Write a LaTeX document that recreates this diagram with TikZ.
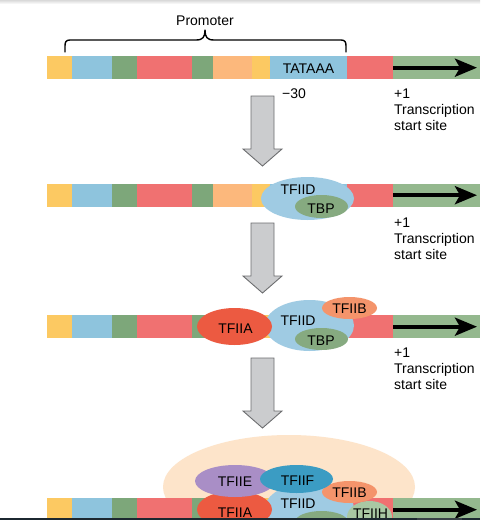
\documentclass[tikz,border=0pt]{standalone}
\usepackage{fontspec}
\setmainfont{Liberation Sans}
\usetikzlibrary{arrows.meta,shapes.geometric}
\definecolor{cyel}{HTML}{FCC962}
\definecolor{cblu}{HTML}{8EC4DD}
\definecolor{cgrn}{HTML}{7DA77A}
\definecolor{cred}{HTML}{F07171}
\definecolor{corg}{HTML}{FCB87C}
\definecolor{clgr}{HTML}{94B88E}
\definecolor{ctfd}{HTML}{9FCBE3}
\definecolor{ctbp}{HTML}{86AA80}
\definecolor{ctfa}{HTML}{EC5A41}
\definecolor{ctfb}{HTML}{F4946B}
\definecolor{ctfe}{HTML}{A98EC6}
\definecolor{ctff}{HTML}{3B9CC3}
\definecolor{ctfh}{HTML}{A9C8A3}
\definecolor{cpch}{HTML}{FDE4CA}
\definecolor{cgfill}{HTML}{CBCCCE}
\definecolor{cgline}{HTML}{6D6E70}
\definecolor{cband}{HTML}{1C2830}
\definecolor{cbandl}{HTML}{384046}
\begin{document}
\begin{tikzpicture}[x=1pt,y=-1pt,font=\fontsize{14}{16}\selectfont,
  blob/.style={ellipse,inner sep=0pt,draw=none},
  lbl/.style={anchor=base,inner sep=0pt},
  lblw/.style={anchor=base west,inner sep=0pt},
  dnarrow/.style={fill=cgfill,draw=cgline,line width=0.9pt,line join=miter},
  tss/.style={line width=4pt,-{Stealth[length=22pt,width=18pt,inset=5pt]}}]
\useasboundingbox (0,0) rectangle (480,520);
\fill[white] (0,0) rectangle (480,520);
\shade[top color=gray!30,bottom color=white] (0,0) rectangle (480,4);

% peach complex (row 4)
\node[blob,fill=cpch,minimum width=252pt,minimum height=104pt] (pol) at (289,487) {};

% DNA bars
\foreach \t [count=\r] in {56,183.5,315,498}{
  \fill[cyel] (47,\t) rectangle (72,\t+23.3);
  \fill[cblu] (72,\t) rectangle (112,\t+23.3);
  \fill[cgrn] (112,\t) rectangle (137,\t+23.3);
  \fill[cred] (137,\t) rectangle (192,\t+23.3);
  \fill[cgrn] (192,\t) rectangle (213,\t+23.3);
  \fill[corg] (213,\t) rectangle (252,\t+23.3);
  \fill[cyel] (252,\t) rectangle (270,\t+23.3);
  \fill[cblu] (270,\t) rectangle (347,\t+23.3);
  \fill[cred] (347,\t) rectangle (393,\t+23.3);
  \fill[clgr] (393,\t) rectangle (480,\t+23.3);
  \coordinate (s\r) at (393,\t+11.7);
  \coordinate (e\r) at (477,\t+11.7);
}
\foreach \r in {1,2,3,4}{ \draw[tss] (s\r) -- (e\r); }

% brace
\draw[line width=1.4pt,line cap=round,line join=round]
  (65,52) -- (65,46) .. controls (65,42) and (66,40) .. (70,40) -- (196,40)
  .. controls (203,40) and (205,37) .. (205,30)
  .. controls (205,37) and (207,40) .. (214,40) -- (341,40)
  .. controls (345,40) and (346,42) .. (346,46) -- (346,52);
\node[lbl] (promoter) at (205,25) {Promoter};
\node[lbl] (tata) at (308.5,73) {TATAAA};
\node[lblw] (m30) at (282,98) {−30};

% row 2
\node[blob,fill=ctfd,minimum width=93pt,minimum height=43pt] (d2) at (307.5,198.5) {};
\node[blob,fill=ctbp,minimum width=53pt,minimum height=23pt] (p2) at (321.5,206.5) {};
\node[lbl] (td2) at (298,194) {TFIID};
\node[lbl] (tp2) at (321,213) {TBP};

% row 3
\node[blob,fill=ctfd,minimum width=89pt,minimum height=51pt] (d3) at (309.5,325.5) {};
\node[blob,fill=ctbp,minimum width=53pt,minimum height=22pt] (p3) at (321.5,339) {};
\node[blob,fill=ctfb,minimum width=55pt,minimum height=22pt] (b3) at (349.5,308) {};
\node[blob,fill=ctfa,minimum width=75pt,minimum height=37pt] (a3) at (234.5,326.5) {};
\node[lbl] (td3) at (298,325.5) {TFIID};
\node[lbl] (tp3) at (321,345) {TBP};
\node[lbl] (tb3) at (349.5,313) {TFIIB};
\node[lbl] (ta3) at (235.5,333) {TFIIA};

% row 4
\node[blob,fill=ctfd,minimum width=89pt,minimum height=51pt] (d4) at (309.5,508.5) {};
\node[blob,fill=ctbp,minimum width=53pt,minimum height=22pt] (p4) at (321.5,522) {};
\node[blob,fill=ctfa,minimum width=75pt,minimum height=37pt] (a4) at (234.5,509.5) {};
\node[blob,fill=ctfh,minimum width=45pt,minimum height=32pt] (h4) at (369.5,517) {};
\node[blob,fill=ctfb,minimum width=55pt,minimum height=22pt] (b4) at (349.5,492) {};
\node[blob,fill=ctfe,minimum width=80pt,minimum height=32pt] (e4) at (235,481) {};
\node[blob,fill=ctff,minimum width=73pt,minimum height=28pt] (f4) at (296.5,479) {};
\node[lbl] (te4) at (235,486) {TFIIE};
\node[lbl] (tf4) at (297.5,485) {TFIIF};
\node[lbl] (tb4) at (349.5,497) {TFIIB};
\node[lbl] (td4) at (298,508) {TFIID};
\node[lbl] (ta4) at (235,517) {TFIIA};
\node[lbl] (th4) at (370.5,518) {TFIIH};

% transcription start site labels
\foreach \b [count=\r] in {98,227,357}{
  \node[lblw] (plus\r) at (394,\b) {+1};
  \node[lblw] (tr\r) at (394,\b+16) {Transcription};
  \node[lblw] (ss\r) at (394,\b+32) {start site};
}

% gray step arrows
\foreach \a in {96,223,358}{
  \draw[dnarrow] (251,\a) -- (274,\a) -- (274,\a+53) -- (282,\a+53)
    -- (262.5,\a+70) -- (243,\a+53) -- (251,\a+53) -- cycle;
}

% bottom band
\fill[cband] (0,517.5) rectangle (480,520);
\fill[cbandl] (417,517.5) rectangle (462,520);
\end{tikzpicture}
\end{document}
